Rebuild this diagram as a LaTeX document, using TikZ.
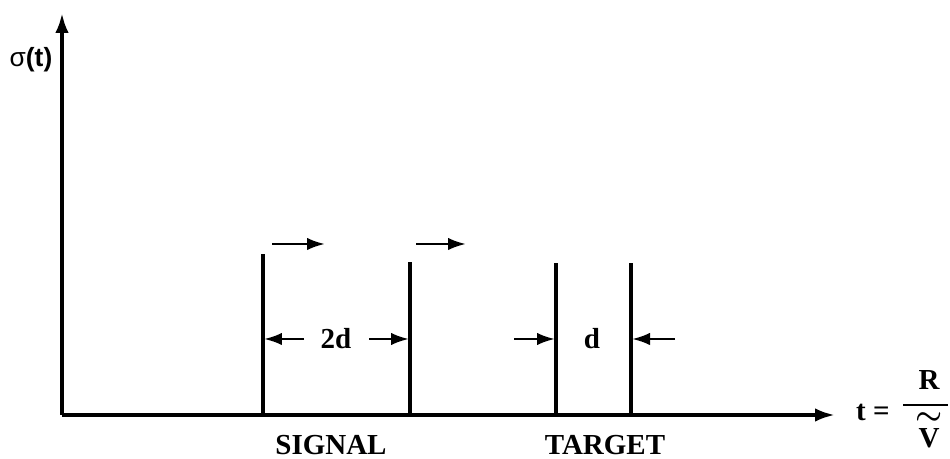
\documentclass[tikz,border=0pt]{standalone}
\usepackage{amsmath}
\usepackage{fontspec}
\setmainfont{Liberation Serif}
\setsansfont{Liberation Sans}
\usetikzlibrary{arrows.meta}
\tikzset{
  lbl/.style={font=\fontsize{16.5}{19}\selectfont\bfseries},
  axis/.style={line width=2.1pt,-{Latex[length=0.4cm,width=0.27cm]}},
  pulse/.style={line width=2.2pt},
  dimarrow/.style={line width=1.5pt,-{Latex[length=0.36cm,width=0.25cm]}},
}
\begin{document}
\begin{tikzpicture}[x=0.02cm,y=0.02cm]
    \useasboundingbox (0,0) rectangle (950,459);
    % axes
    \coordinate (O) at (62,44);
    \coordinate (ytip) at (62,446);
    \coordinate (xtip) at (835,44);
    \draw [axis] (O) -- (ytip);
    \draw [axis] (O) -- (xtip);
    \node [font=\fontsize{15}{18}\selectfont\sffamily] (sigma) at (31,399) {σ\textbf{(t)}};
    \node [lbl, anchor=west] (teq) at (850,47) {t =};
    \node [lbl, inner sep=0pt] (R) at (929,79) {R};
    \draw [line width=1.4pt] (903,54) -- (948,54);
    \node [lbl, inner sep=0pt] (tld) at (929,40) {$\boldsymbol{\sim}$};
    \node [lbl, inner sep=0pt] (V) at (929,21) {V};
    % pulses
    \coordinate (s1) at (263,44); \coordinate (s1t) at (263,205);
    \coordinate (s2) at (410,44); \coordinate (s2t) at (410,197);
    \coordinate (g1) at (556,44); \coordinate (g1t) at (556,196);
    \coordinate (g2) at (631,44); \coordinate (g2t) at (631,196);
    \draw [pulse] (s1) -- (s1t);
    \draw [pulse] (s2) -- (s2t);
    \draw [pulse] (g1) -- (g1t);
    \draw [pulse] (g2) -- (g2t);
    % motion arrows
    \coordinate (m1a) at (272,215); \coordinate (m1b) at (325,215);
    \coordinate (m2a) at (416,215); \coordinate (m2b) at (466,215);
    \draw [dimarrow] (m1a) -- (m1b);
    \draw [dimarrow] (m2a) -- (m2b);
    % spacing marks
    \node [lbl] (twod) at (336,120) {2d};
    \coordinate (a1) at (304,120); \coordinate (a1e) at (264,120);
    \coordinate (a2) at (369,120); \coordinate (a2e) at (409,120);
    \draw [dimarrow] (a1) -- (a1e);
    \draw [dimarrow] (a2) -- (a2e);
    \node [lbl] (dd) at (592,120) {d};
    \coordinate (b1) at (514,120); \coordinate (b1e) at (555,120);
    \coordinate (b2) at (675,120); \coordinate (b2e) at (632,120);
    \draw [dimarrow] (b1) -- (b1e);
    \draw [dimarrow] (b2) -- (b2e);
    % labels
    \node [lbl, inner sep=0pt] (signal) at (331,14) {SIGNAL};
    \node [lbl, inner sep=0pt] (target) at (605,14) {TARGET};
\end{tikzpicture}
\end{document}
